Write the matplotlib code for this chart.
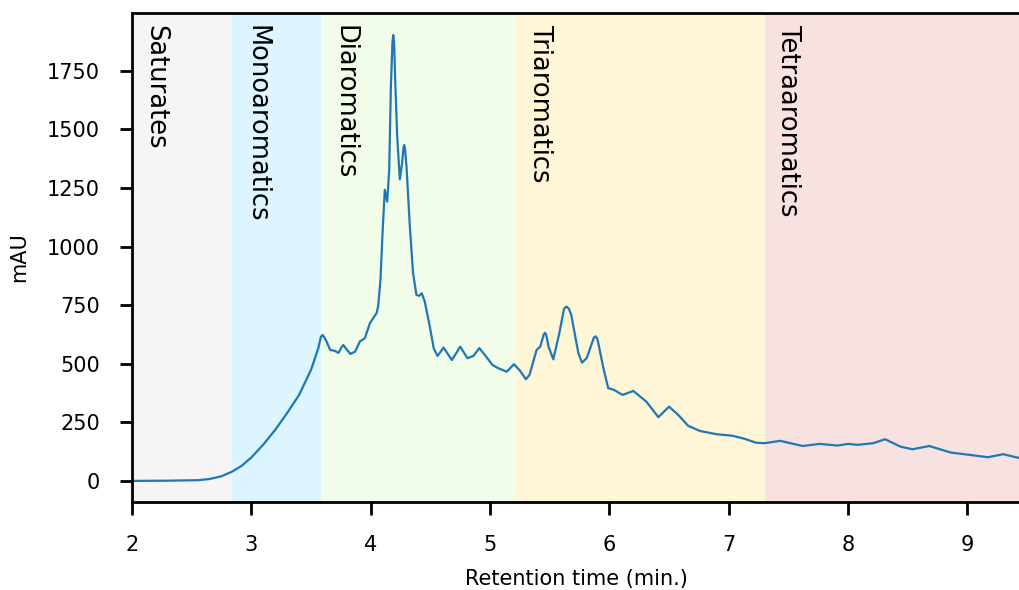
import matplotlib
matplotlib.use("Agg")
import matplotlib.pyplot as plt
import matplotlib.transforms as mtransforms

# Chromatogram
time_min = [2.00, 2.30, 2.55, 2.65, 2.75, 2.84, 2.92, 3.00, 3.10, 3.20, 3.30, 3.40, 3.50,
            3.560, 3.583, 3.597, 3.612, 3.63, 3.66, 3.70, 3.73, 3.755, 3.77, 3.785,
            3.80, 3.83, 3.87, 3.909, 3.951, 3.993, 4.049, 4.062, 4.082, 4.099, 4.118,
            4.138, 4.155, 4.169, 4.182, 4.189, 4.196, 4.205, 4.222, 4.244, 4.263,
            4.274, 4.280, 4.287, 4.300, 4.328, 4.355, 4.383, 4.405, 4.428, 4.453,
            4.495, 4.528, 4.56, 4.61, 4.68, 4.75, 4.81, 4.86, 4.91, 4.96, 5.02, 5.065,
            5.14, 5.20, 5.25, 5.30, 5.33, 5.39, 5.42, 5.45, 5.46, 5.47, 5.49, 5.53,
            5.58, 5.62, 5.64, 5.66, 5.68, 5.74, 5.77, 5.81, 5.87, 5.885, 5.90, 5.95,
            5.99, 6.04, 6.11, 6.20, 6.31, 6.41, 6.50, 6.58, 6.66, 6.76, 6.90, 7.03,
            7.13, 7.23, 7.30, 7.43, 7.62, 7.76, 7.91, 8.00, 8.08, 8.21, 8.31, 8.44,
            8.54, 8.68, 8.86, 9.02, 9.17, 9.30, 9.44]
mau = [0, 1, 3, 8, 20, 40, 65, 100, 155, 218, 290, 367, 474,
       565, 615, 623, 612, 595, 559, 555, 546, 570, 580, 570,
       560, 542, 552, 595, 609, 673, 716, 744, 858, 1057, 1242,
       1192, 1327, 1683, 1870, 1903, 1870, 1711, 1470, 1287, 1356,
       1420, 1434, 1420, 1341, 1085, 886, 794, 790, 801, 765,
       659, 566, 533, 569, 516, 573, 524, 533, 567, 535, 495, 482,
       466, 498, 471, 434, 452, 559, 573, 625, 632, 625, 573, 519,
       630, 735, 744, 735, 709, 545, 505, 524, 612, 617, 605, 480,
       396, 388, 367, 384, 338, 272, 317, 280, 235, 213, 199, 193,
       180, 163, 161, 171, 149, 158, 151, 158, 154, 161, 178, 146,
       135, 149, 121, 111, 101, 114, 97]

# Fraction regions
region_names = ["Saturates", "Monoaromatics", "Diaromatics", "Triaromatics", "Tetraaromatics"]
region_edges = [2.0, 2.84, 3.58, 5.22, 7.30, 9.44]
region_colors = ["#f7f4f6", "#dcf5fe", "#f1fde9", "#fef6d6", "#f7e1e1"]

x_ticks = [2, 3, 4, 5, 6, 7, 8, 9]
y_ticks = [0, 250, 500, 750, 1000, 1250, 1500, 1750]

fig = plt.figure(figsize=(10.2, 5.9), dpi=100)
ax = fig.add_axes([132/1020, 88/590, 888/1020, 489/590])

trans = mtransforms.blended_transform_factory(ax.transData, ax.transAxes)
for name, x0, x1, c in zip(region_names, region_edges[:-1], region_edges[1:], region_colors):
    ax.axvspan(x0, x1, color=c, lw=0, zorder=0)
    ax.text(x0 + 0.09, 0.975, name, rotation=-90, ha="left", va="top",
            fontsize=18.5, transform=trans, zorder=3)

ax.plot(time_min, mau, color="#1f77b4", lw=1.6, zorder=2)

ax.set_xlim(2.0, 9.44)
ax.set_ylim(-90, 1997)
ax.set_xticks(x_ticks)
ax.set_yticks(y_ticks)
ax.set_xlabel("Retention time (min.)", fontsize=15, labelpad=10)
ax.set_ylabel("mAU", fontsize=15, labelpad=13)
ax.tick_params(axis="both", labelsize=15, width=2, length=9)
ax.tick_params(axis="y", pad=14)
ax.tick_params(axis="x", pad=14.5)
for s in ["left", "top", "bottom"]:
    ax.spines[s].set_linewidth(2)
ax.spines["right"].set_visible(False)

fig.savefig("out.png", dpi=100)
